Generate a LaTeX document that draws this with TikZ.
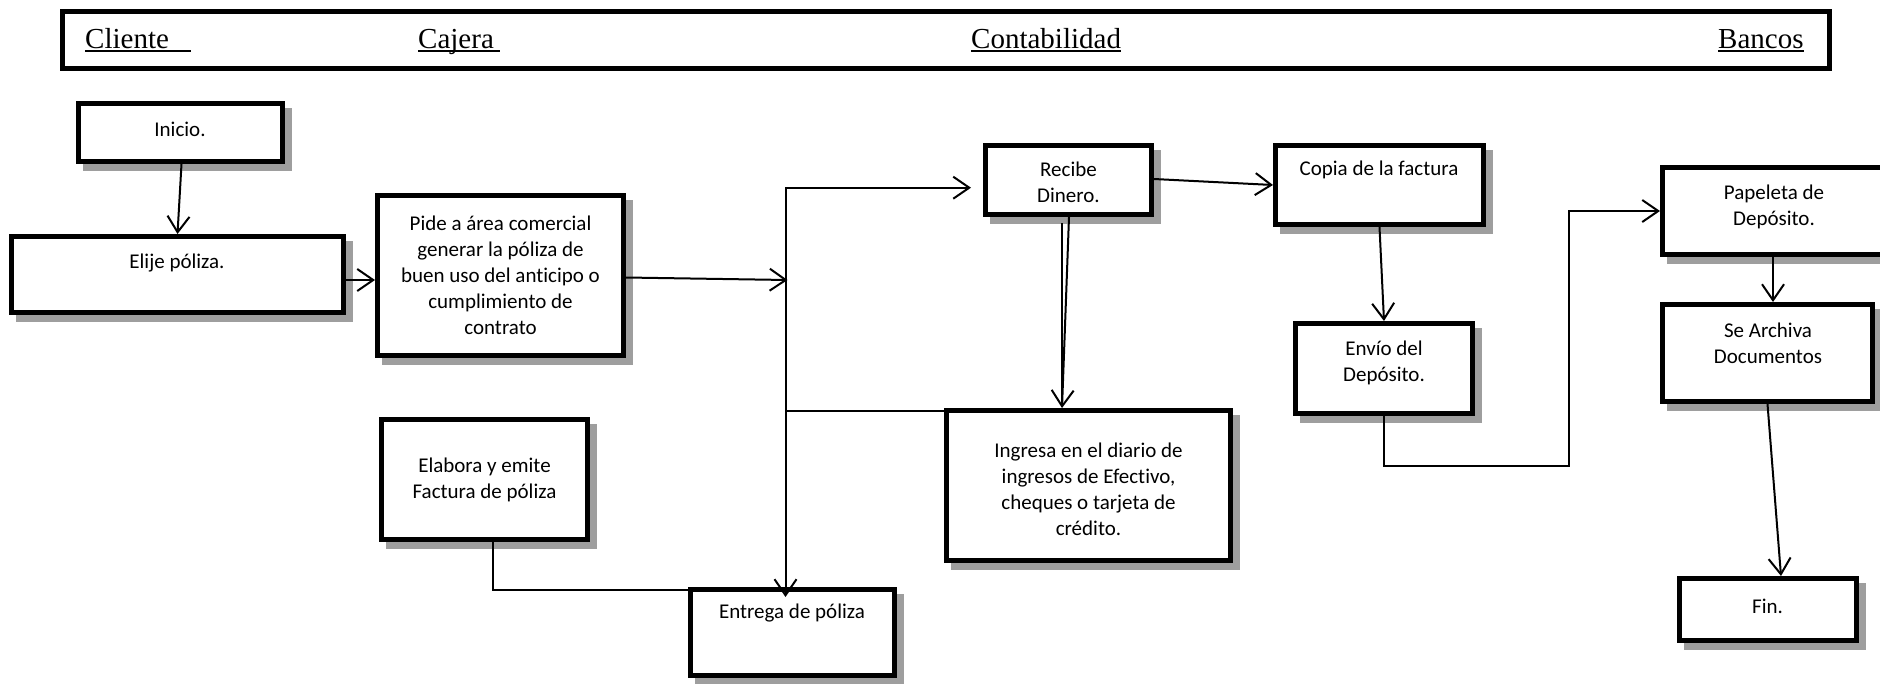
\documentclass[tikz,border=0pt]{standalone}
\usepackage{fontspec}
\setmainfont{Liberation Serif}
\newfontfamily\bodyfont[Ligatures={NoCommon}]{Carlito}
\usetikzlibrary{arrows.meta,calc}
% underlined lane title, with optional trailing underline space
\newcommand{\hdrline}[2]{\setbox0\hbox{#1\hspace*{#2}}\rlap{\rule[-3.5pt]{\wd0}{1.5pt}}\box0}

\begin{document}
\begin{tikzpicture}[x=1pt,y=-1pt,
  frame/.style={draw, line width=5pt, inner sep=0pt},
  box/.style={draw, line width=5pt, fill=white, inner sep=0pt, align=center,
    font=\bodyfont\fontsize{21}{26}\selectfont,
    preaction={fill=black!38, draw=black!38, transform canvas={shift={(7pt,-7pt)}}}},
  txt/.style={font=\bodyfont\fontsize{21}{26}\selectfont, align=center, inner sep=0pt},
  hdr/.style={font=\fontsize{29}{34}\selectfont, anchor=base west, inner sep=0pt},
  line/.style={line width=2pt},
  arr/.style={line width=2pt, -{Straight Barb[length=16pt,width=22pt]}},
  arrtwo/.style={line width=2pt, {Straight Barb[length=16pt,width=22pt]}-{Straight Barb[length=16pt,width=22pt]}}
]
\useasboundingbox (0,0) rectangle (1880,683);
\fill[white] (0,0) rectangle (1880,683);
\clip (0,0) rectangle (1880,683);

% lane titles
\node[frame, minimum width=1767pt, minimum height=57pt] (header) at (946,40) {};
\node[hdr] (cliente) at (85,48) {\hdrline{Cliente}{22pt}};
\node[hdr] (cajera) at (418,48) {\hdrline{Cajera}{6pt}};
\node[hdr] (contab) at (971,48) {\hdrline{Contabilidad}{0pt}};
\node[hdr] (bancos) at (1718,48) {\hdrline{Bancos}{0pt}};

% process boxes
\node[box, minimum width=204pt, minimum height=58pt] (inicio) at (180.5,132.5) {};
\node[txt] (inicio-t) at (180,129) {Inicio.};

\node[box, minimum width=332pt, minimum height=76pt] (elije) at (177.5,274.5) {};
\node[txt] (elije-t) at (177,263) {Elije póliza.};

\node[box, minimum width=246pt, minimum height=160pt] (pide) at (500.5,275.5)
  {Pide a área comercial\\generar la póliza de\\buen uso del anticipo o\\cumplimiento de\\contrato};

\node[box, minimum width=166pt, minimum height=69pt] (recibe) at (1068.5,180) {};
\node[txt] (recibe-t) at (1068.5,182) {Recibe\\Dinero.};

\node[box, minimum width=208pt, minimum height=79pt] (copia) at (1379.5,185) {};
\node[txt] (copia-t) at (1379,170) {Copia de la factura};

\node[box, minimum width=177pt, minimum height=90pt] (envio) at (1384,368.5) {};
\node[txt] (envio-t) at (1384,362.5) {Envío del\\Depósito.};

\node[box, minimum width=235pt, minimum height=87pt] (papeleta) at (1780,211) {};
\node[txt] (papeleta-t) at (1774,206.5) {Papeleta de\\Depósito.};

\node[box, minimum width=210pt, minimum height=97pt] (archiva) at (1767.5,353) {};
\node[txt] (archiva-t) at (1768,343.5) {Se Archiva\\Documentos};

\node[box, minimum width=177pt, minimum height=62pt] (fin) at (1768,609.5) {};
\node[txt] (fin-t) at (1767.5,606) {Fin.};

\node[box, minimum width=284pt, minimum height=150pt] (ingresa) at (1088.5,485.5) {};
\node[txt] (ingresa-t) at (1088.5,489.5)
  {Ingresa en el diario de\\ingresos de Efectivo,\\cheques o tarjeta de\\crédito.};

\node[box, minimum width=206pt, minimum height=120pt] (elabora) at (484.5,479.5)
  {Elabora y emite\\Factura de póliza};

\node[box, minimum width=204pt, minimum height=86pt] (entrega) at (792.5,632.5) {};
\node[txt] (entrega-t) at (792,613) {Entrega de póliza};

% junction points
\coordinate (jtop) at (785.5,187.7);
\coordinate (jmid) at (787.5,280);
\coordinate (dep1) at (1569,466);

% connectors
\draw[arr] ([xshift=1pt]inicio.south) -- (elije.north);
\draw[arr] ($(elije.east)+(0,5.5)$) -- ($(elije.east -| pide.west)+(0,5.5)$);
\draw[arr] ($(pide.east)+(0,2)$) -- (jmid);
\draw[arrtwo] ($(jtop -| recibe.west)+(-12,0)$) -- (jtop) -- ($(jtop |- entrega.north)+(0,10)$);
\draw[line] ($(ingresa.north west)+(0,2.5)$) -- ($(ingresa.north west -| jtop)+(0,2.5)$);
\draw[arr] ($(recibe.south)+(0.5,0)$) -- ($(ingresa.north)+(-26.5,0)$);
\draw[line] ($(recibe.south)+(-6.5,6)$) -- ($(ingresa.north)+(-26.5,-4)$);
\draw[arr] ($(recibe.east)+(0,-1)$) -- (copia.west);
\draw[arr] (copia.south) -- (envio.north);
\draw[arr] (envio.south) |- (dep1) |- (papeleta.west);
\draw[arr] ($(papeleta.south -| archiva.north)+(5.5,-5)$) -- ($(archiva.north)+(5.5,0)$);
\draw[arr] (archiva.south) -- ($(fin.north)+(13,0)$);
\draw[line] ($(elabora.south)+(8.5,0)$) |- ($(entrega.north west)+(0,3)$);
\end{tikzpicture}
\end{document}
